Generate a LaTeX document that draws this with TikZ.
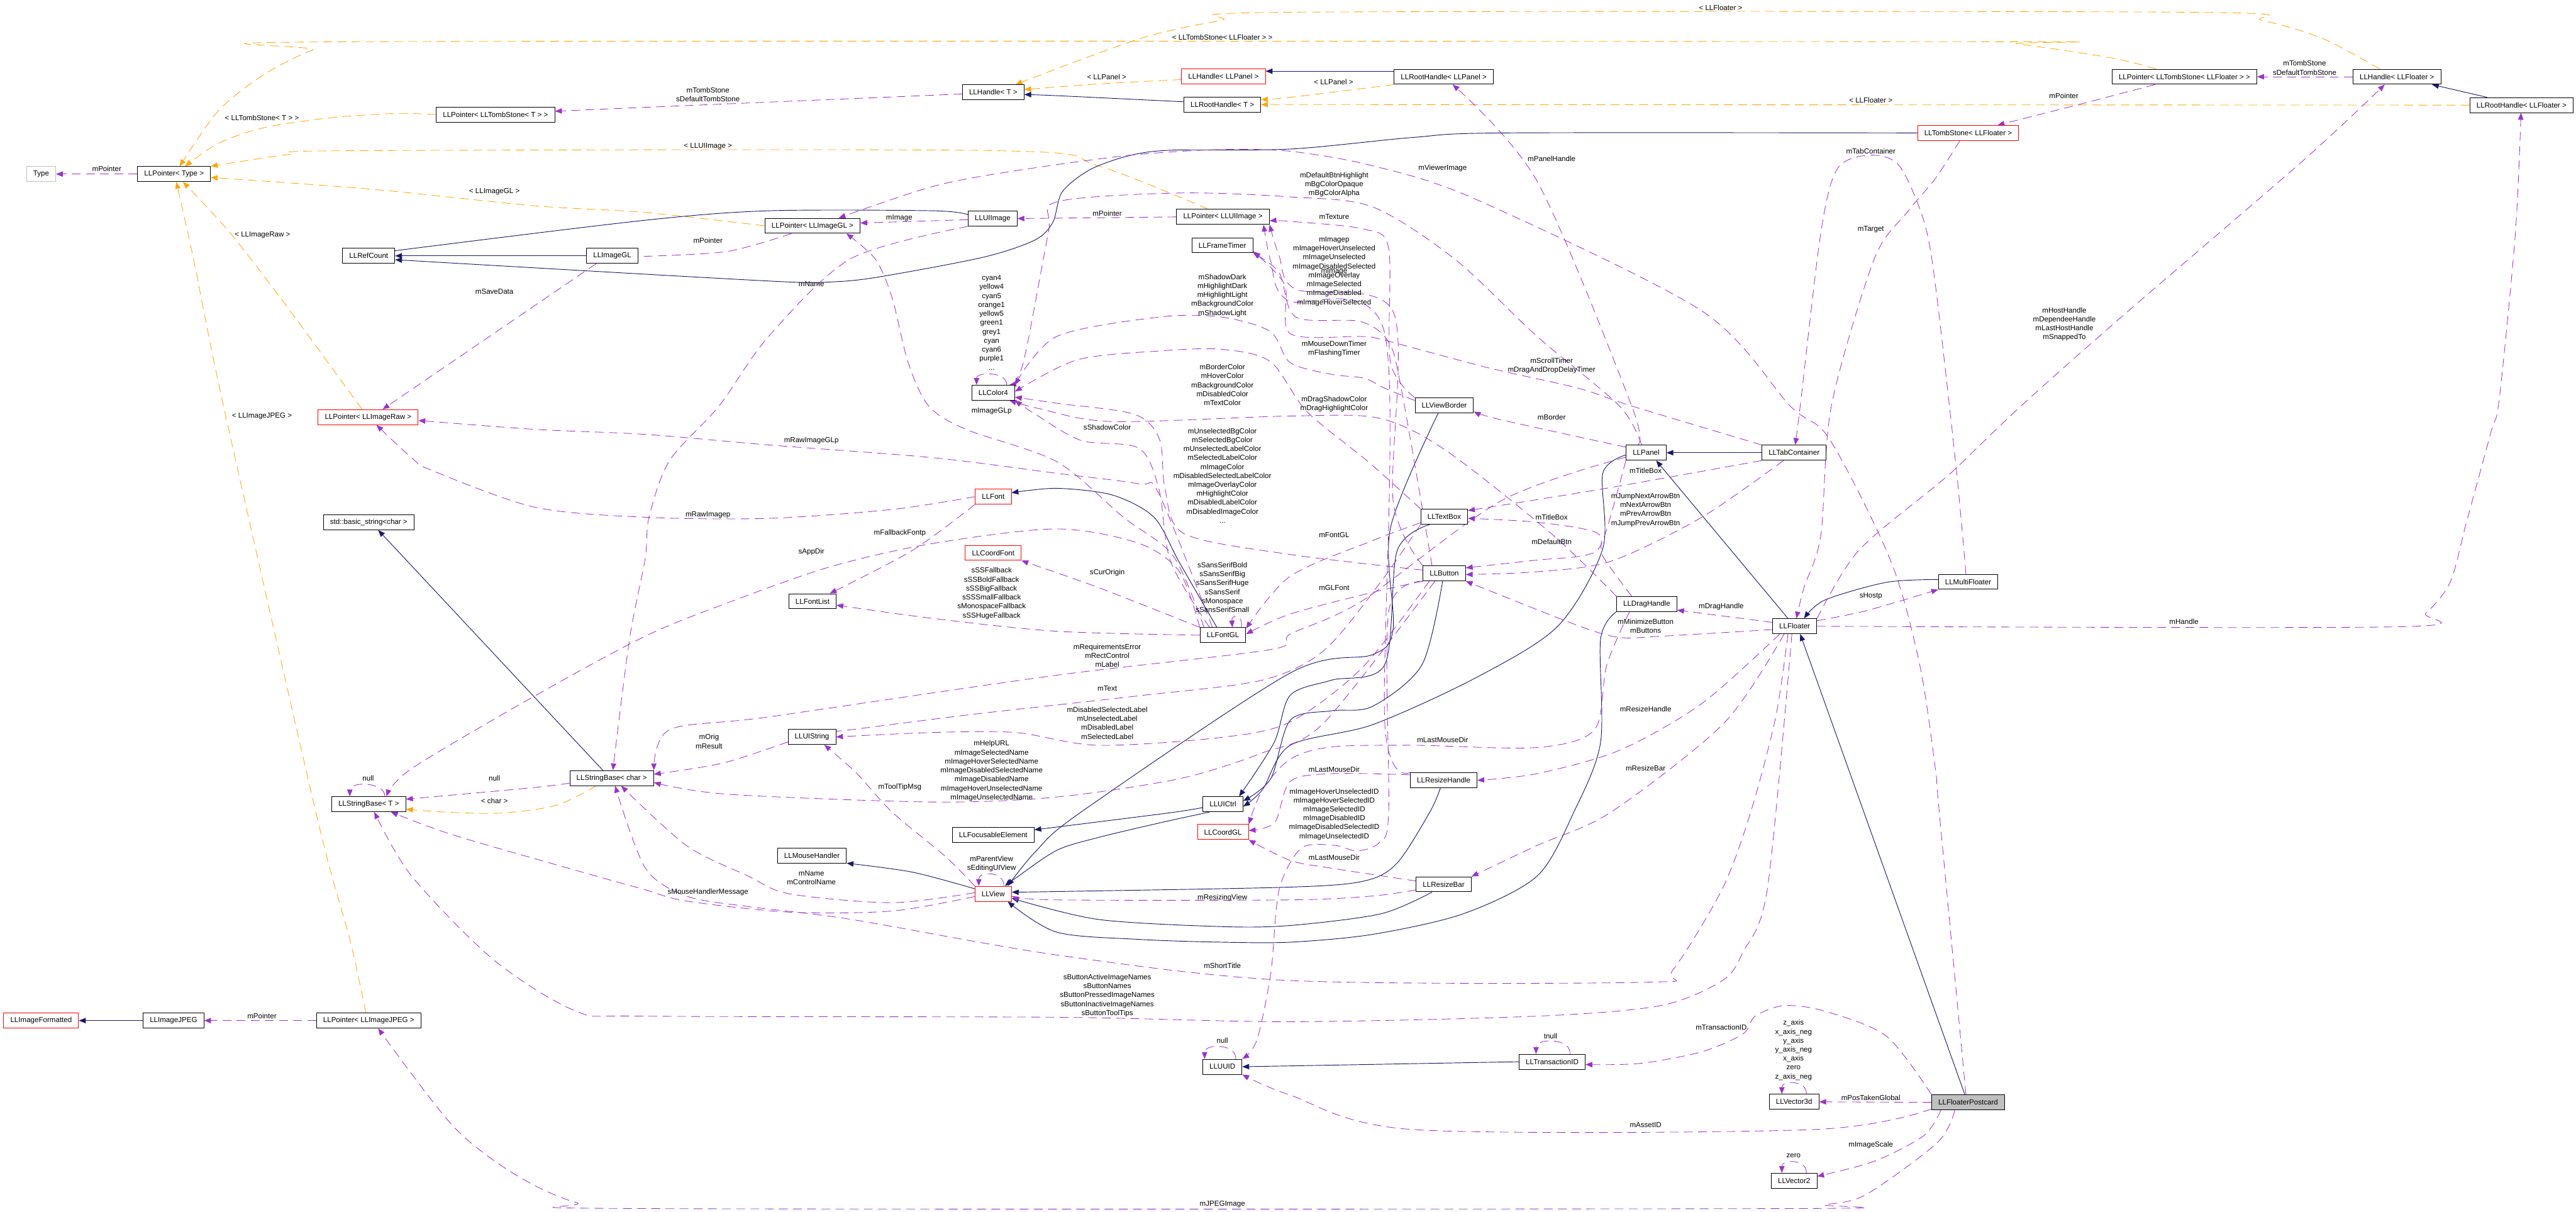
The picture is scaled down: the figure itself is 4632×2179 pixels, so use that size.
\documentclass[tikz,border=0pt]{standalone}
\usepackage{fontspec}
\setmainfont{Liberation Sans}
\usetikzlibrary{arrows.meta,backgrounds}
\definecolor{edgenavy}{RGB}{25,25,112}
\definecolor{edgepurple}{RGB}{154,50,205}
\definecolor{edgeorange}{RGB}{255,165,0}
\definecolor{boxgray}{RGB}{191,191,191}
\newcommand{\graphfont}{\fontsize{7.45pt}{9.16pt}\selectfont}

\begin{document}
\begin{tikzpicture}[x=0.02cm, y=-0.02cm,
  cls/.style={draw=black, fill=white, line width=0.6pt, minimum height=0.54cm, inner xsep=0.24cm, inner ysep=0pt, font=\graphfont},
  redcls/.style={cls, draw=red},
  lbl/.style={align=center, inner sep=0pt, font=\graphfont},
  inh/.style={draw=edgenavy, line width=0.6pt, -{Triangle[length=7pt,width=5.5pt]}},
  dep/.style={draw=edgepurple, line width=0.55pt, dash pattern=on 9pt off 5.5pt, -{Triangle[length=7pt,width=5.5pt]}},
  tpl/.style={draw=edgeorange, line width=0.55pt, dash pattern=on 9pt off 5.5pt, -{Triangle[length=7pt,width=5.5pt]}}]
\useasboundingbox (0,0) rectangle (4632,2179);

\node[cls, draw=boxgray] (typ) at (74,313) {Type};
\node[cls] (ptrtype) at (313,313) {LLPointer< Type >};
\node[cls] (ptrts) at (891,206) {LLPointer< LLTombStone< T > >};
\node[cls] (refcount) at (663,460) {LLRefCount};
\node[cls] (imagegl) at (1101,460) {LLImageGL};
\node[cls] (handlet) at (1786,166) {LLHandle< T >};
\node[redcls] (handlepanel) at (2200,137) {LLHandle< LLPanel >};
\node[cls] (roothandlet) at (2198,188) {LLRootHandle< T >};
\node[cls] (ptrimagegl) at (1461,406) {LLPointer< LLImageGL >};
\node[cls] (uiimage) at (1785,393) {LLUIImage};
\node[cls] (ptruiimage) at (2199,390) {LLPointer< LLUIImage >};
\node[cls] (frametimer) at (2198,441) {LLFrameTimer};
\node[cls] (color4) at (1786,706) {LLColor4};
\node[cls] (roothandlepanel) at (2596,138) {LLRootHandle< LLPanel >};
\node[redcls] (tombfloater) at (3539,239) {LLTombStone< LLFloater >};
\node[cls] (viewborder) at (2597,729) {LLViewBorder};
\node[cls] (ptrtsfloater) at (3928,138) {LLPointer< LLTombStone< LLFloater > >};
\node[cls] (handlefloater) at (4310,138) {LLHandle< LLFloater >};
\node[cls] (roothandlefloater) at (4534,189) {LLRootHandle< LLFloater >};
\node[redcls] (ptrimageraw) at (662,750) {LLPointer< LLImageRaw >};
\node[cls] (basicstring) at (663,939) {std::basic\_string<char >};
\node[cls] (stringchar) at (1100,1399) {LLStringBase< char >};
\node[cls] (stringt) at (663,1446) {LLStringBase< T >};
\node[redcls] (font) at (1786,893) {LLFont};
\node[redcls] (coordfont) at (1786,994) {LLCoordFont};
\node[cls] (fontlist) at (1461,1081) {LLFontList};
\node[cls] (fontgl) at (2199,1142) {LLFontGL};
\node[cls] (uistring) at (1460,1325) {LLUIString};
\node[cls] (uictrl) at (2199,1446) {LLUICtrl};
\node[cls] (panel) at (2960,814) {LLPanel};
\node[cls] (tabcontainer) at (3226,814) {LLTabContainer};
\node[cls] (textbox) at (2597,929) {LLTextBox};
\node[cls] (button) at (2597,1031) {LLButton};
\node[cls] (draghandle) at (2961,1086) {LLDragHandle};
\node[cls] (floater) at (3227,1126) {LLFloater};
\node[cls] (resizehandle) at (2596,1403) {LLResizeHandle};
\node[cls] (multifloater) at (3539,1046) {LLMultiFloater};
\node[redcls] (imageformatted) at (74,1835) {LLImageFormatted};
\node[cls] (imagejpeg) at (312,1835) {LLImageJPEG};
\node[cls] (ptrjpeg) at (663,1835) {LLPointer< LLImageJPEG >};
\node[cls] (focusable) at (1786,1501) {LLFocusableElement};
\node[cls] (mousehandler) at (1460,1538) {LLMouseHandler};
\node[redcls] (view) at (1786,1607) {LLView};
\node[redcls] (coordgl) at (2199,1496) {LLCoordGL};
\node[cls] (uuid) at (2198,1918) {LLUUID};
\node[cls] (resizebar) at (2596,1590) {LLResizeBar};
\node[cls] (transactionid) at (2791,1909) {LLTransactionID};
\node[cls] (vector3d) at (3226,1981) {LLVector3d};
\node[cls] (vector2) at (3226,2123) {LLVector2};
\node[cls, fill=boxgray] (postcard) at (3539,1982) {LLFloaterPostcard};

\node[lbl] (lblptrtype) at (192,304) {mPointer};
\node[lbl] (lbltombt) at (471,212) {< LLTombStone< T > >};
\node[lbl] (lblimagegl) at (889,344) {< LLImageGL >};
\node[lbl] (lblimageraw) at (472,423) {< LLImageRaw >};
\node[lbl] (lblsavedata) at (889,524) {mSaveData};
\node[lbl] (lbltombstone) at (1273,170) {mTombStone\\sDefaultTombStone};
\node[lbl] (lblpanela) at (1990,138) {< LLPanel >};
\node[lbl] (lbltombfloater) at (2198,67) {< LLTombStone< LLFloater > >};
\node[lbl] (lbluiimage) at (1273,263) {< LLUIImage >};
\node[lbl] (lblmimage) at (1617,392) {mImage};
\node[lbl] (lblptruiimage) at (1991,384) {mPointer};
\node[lbl] (lblptrimagegl) at (1273,432) {mPointer};
\node[lbl] (lblmname) at (1459,511) {mName};
\node[lbl] (lblcolors) at (1783,580) {cyan4\\yellow4\\cyan5\\orange1\\yellow5\\green1\\grey1\\cyan\\cyan6\\purple1\\...};
\node[lbl] (lblshadow) at (2198,531) {mShadowDark\\mHighlightDark\\mHighlightLight\\mBackgroundColor\\mShadowLight};
\node[lbl] (lblborder) at (2198,692) {mBorderColor\\mHoverColor\\mBackgroundColor\\mDisabledColor\\mTextColor};
\node[lbl] (lblfloatera) at (3094,14) {< LLFloater >};
\node[lbl] (lblpanelb) at (2398,147) {< LLPanel >};
\node[lbl] (lblfloaterb) at (3364,180) {< LLFloater >};
\node[lbl] (lbltabcont) at (3364,272) {mTabContainer};
\node[lbl] (lblpanelhandle) at (2790,285) {mPanelHandle};
\node[lbl] (lblviewerimage) at (2594,303) {mViewerImage};
\node[lbl] (lbldefhighlight) at (2399,332) {mDefaultBtnHighlight\\mBgColorOpaque\\mBgColorAlpha};
\node[lbl] (lbltexture) at (2399,390) {mTexture};
\node[lbl] (lblimages) at (2399,488) {mImagep\\mImageHoverUnselected\\mImageUnselected\\mImageDisabledSelected\\mImageOverlay\\mImageSelected\\mImageDisabled\\mImageHoverSelected};
\node[lbl] (lblimage) at (2399,488) {mImage};
\node[lbl] (lbltarget) at (3364,412) {mTarget};
\node[lbl] (lbltimers) at (2399,627) {mMouseDownTimer\\mFlashingTimer};
\node[lbl] (lblscroll) at (2790,658) {mScrollTimer\\mDragAndDropDelayTimer};
\node[lbl] (lbldragcolor) at (2399,727) {mDragShadowColor\\mDragHighlightColor};
\node[lbl] (lbltombstoneb) at (4144,122) {mTombStone\\sDefaultTombStone};
\node[lbl] (lblptrtomb) at (3711,172) {mPointer};
\node[lbl] (lblhosthandle) at (3712,583) {mHostHandle\\mDependeeHandle\\mLastHostHandle\\mSnappedTo};
\node[lbl] (lblimagejpeg) at (471,748) {< LLImageJPEG >};
\node[lbl] (lblnullt) at (662,1399) {null};
\node[lbl] (lblnullchar) at (889,1399) {null};
\node[lbl] (lblchar) at (889,1440) {< char >};
\node[lbl] (lblimageglp) at (1783,739) {mImageGLp};
\node[lbl] (lblshadowcolor) at (1991,768) {sShadowColor};
\node[lbl] (lblrawgl) at (1459,792) {mRawImageGLp};
\node[lbl] (lblbtncolors) at (2198,855) {mUnselectedBgColor\\mSelectedBgColor\\mUnselectedLabelColor\\mSelectedLabelColor\\mImageColor\\mDisabledSelectedLabelColor\\mImageOverlayColor\\mHighlightColor\\mDisabledLabelColor\\mDisabledImageColor\\...};
\node[lbl] (lblrawimage) at (1273,926) {mRawImagep};
\node[lbl] (lblfallback) at (1618,958) {mFallbackFontp};
\node[lbl] (lblappdir) at (1459,992) {sAppDir};
\node[lbl] (lblcurorigin) at (1991,1030) {sCurOrigin};
\node[lbl] (lblssfallback) at (1783,1067) {sSSFallback\\sSSBoldFallback\\sSSBigFallback\\sSSSmallFallback\\sMonospaceFallback\\sSSHugeFallback};
\node[lbl] (lblsansserif) at (2198,1056) {sSansSerifBold\\sSansSerifBig\\sSansSerifHuge\\sSansSerif\\sMonospace\\sSansSerifSmall};
\node[lbl] (lblrequire) at (1991,1179) {mRequirementsError\\mRectControl\\mLabel};
\node[lbl] (lbltext) at (1991,1238) {mText};
\node[lbl] (lbllabels) at (1991,1300) {mDisabledSelectedLabel\\mUnselectedLabel\\mDisabledLabel\\mSelectedLabel};
\node[lbl] (lblorig) at (1275,1333) {mOrig\\mResult};
\node[lbl] (lblnames) at (1783,1386) {mHelpURL\\mImageSelectedName\\mImageHoverSelectedName\\mImageDisabledSelectedName\\mImageDisabledName\\mImageHoverUnselectedName\\mImageUnselectedName};
\node[lbl] (lbltooltip) at (1618,1415) {mToolTipMsg};
\node[lbl] (lblborderview) at (2790,750) {mBorder};
\node[lbl] (lbltitleboxa) at (2959,846) {mTitleBox};
\node[lbl] (lblarrows) at (2959,917) {mJumpNextArrowBtn\\mNextArrowBtn\\mPrevArrowBtn\\mJumpPrevArrowBtn};
\node[lbl] (lbltitleboxb) at (2790,930) {mTitleBox};
\node[lbl] (lblfontgl) at (2399,962) {mFontGL};
\node[lbl] (lbldefbtn) at (2790,974) {mDefaultBtn};
\node[lbl] (lblglfont) at (2399,1057) {mGLFont};
\node[lbl] (lblhostp) at (3364,1072) {sHostp};
\node[lbl] (lbldraghandle) at (3095,1091) {mDragHandle};
\node[lbl] (lblbuttons) at (2959,1126) {mMinimizeButton\\mButtons};
\node[lbl] (lblresizehandle) at (2959,1275) {mResizeHandle};
\node[lbl] (lbldira) at (2594,1330) {mLastMouseDir};
\node[lbl] (lblresizebar) at (2959,1381) {mResizeBar};
\node[lbl] (lbldirb) at (2399,1383) {mLastMouseDir};
\node[lbl] (lblids) at (2399,1464) {mImageHoverUnselectedID\\mImageHoverSelectedID\\mImageSelectedID\\mImageDisabledID\\mImageDisabledSelectedID\\mImageUnselectedID};
\node[lbl] (lblhandle) at (3927,1118) {mHandle};
\node[lbl] (lblptrjpeg) at (471,1827) {mPointer};
\node[lbl] (lblparent) at (1783,1553) {mParentView\\sEditingUIView};
\node[lbl] (lblcontrolname) at (1459,1578) {mName\\mControlName};
\node[lbl] (lblmousemsg) at (1273,1604) {sMouseHandlerMessage};
\node[lbl] (lblresizing) at (2198,1614) {mResizingView};
\node[lbl] (lblshorttitle) at (2198,1736) {mShortTitle};
\node[lbl] (lblbtnnames) at (1991,1790) {sButtonActiveImageNames\\sButtonNames\\sButtonPressedImageNames\\sButtonInactiveImageNames\\sButtonToolTips};
\node[lbl] (lblnulluuid) at (2198,1871) {null};
\node[lbl] (lbljpeg) at (2198,2165) {mJPEGImage};
\node[lbl] (lbldirc) at (2399,1542) {mLastMouseDir};
\node[lbl] (lbltransid) at (3095,1847) {mTransactionID};
\node[lbl] (lbltnull) at (2788,1863) {tnull};
\node[lbl] (lblaxes) at (3225,1888) {z\_axis\\x\_axis\_neg\\y\_axis\\y\_axis\_neg\\x\_axis\\zero\\z\_axis\_neg};
\node[lbl] (lblpostaken) at (3364,1974) {mPosTakenGlobal};
\node[lbl] (lblassetid) at (2959,2023) {mAssetID};
\node[lbl] (lblimagescale) at (3364,2059) {mImageScale};
\node[lbl] (lblzero) at (3225,2078) {zero};

\begin{scope}[on background layer]
\draw[tpl] plot[smooth] coordinates {(ptrts.west) (710,204) (592,212) (473,230) (392,258) (ptrtype.north -| 333,0)};
\draw[tpl] plot[smooth] coordinates {(ptrtsfloater.north -| 3877,0) (3796,104) (3627,79) (3540,75) (640,75) (562,90) (473,135) (392,200) (ptrtype.north -| 323,0)};
\draw[tpl] plot[smooth] coordinates {(ptruiimage.north -| 2172,0) (1974,298) (1796,271) (629,271) (518,278) (ptrtype.north east)};
\draw[tpl] plot[smooth] coordinates {(ptrimagegl.west) (1160,382) (962,370) (666,340) (ptrtype.east |- 0,319)};
\draw[tpl] plot[smooth] coordinates {(ptrimageraw.north -| 651,0) (518,554) (414,419) (ptrtype.south -| 329,0)};
\draw[tpl] plot[smooth] coordinates {(ptrjpeg.north -| 658,0) (629,1689) (570,1469) (403,735) (348,466) (ptrtype.south -| 317,0)};
\draw[tpl] plot[smooth] coordinates {(handlepanel.west |- 0,143) (1974,151) (handlet.east |- 0,161)};
\draw[tpl] plot[smooth] coordinates {(handlefloater.north -| 4279,0) (4178,70) (4068,37) (3936,22) (2320,22) (2195,37) (2048,70) (handlet.north -| 1826,0)};
\draw[tpl] plot[smooth] coordinates {(roothandlepanel.south west) (2320,175) (roothandlet.east |- 0,179)};
\draw[tpl] (roothandlefloater.west) -- (roothandlet.east);
\draw[tpl] plot[smooth] coordinates {(stringchar.south -| 1072,0) (1000,1448) (900,1462) (800,1460) (stringt.east |- 0,1455)};

\draw[inh] plot[smooth] coordinates {(roothandlet.west |- 0,183) (1900,172) (handlet.east |- 0,170)};
\draw[inh] (roothandlepanel.west |- 0,128) -- (handlepanel.east |- 0,128);
\draw[inh] (roothandlefloater.north -| 4472,0) -- (handlefloater.south -| 4373,0);
\draw[inh] plot[smooth] coordinates {(uiimage.west |- 0,386) (1678,379) (1382,379) (1160,396) (740,447) (refcount.east |- 0,452)};
\draw[inh] (imagegl.west) -- (refcount.east);
\draw[inh] plot[smooth] coordinates {(tombfloater.west) (2707,239) (2542,247) (2320,268) (2107,270) (2030,280) (1960,305) (1910,345) (1893,400) (1860,432) (1766,463) (1574,499) (1493,507) (1419,507) (1160,493) (refcount.east |- 0,467)};
\draw[inh] (stringchar.north -| 1084,0) -- (basicstring.south -| 680,0);
\draw[inh] (imagejpeg.west) -- (imageformatted.east);
\draw[inh] (tabcontainer.west) -- (panel.east);
\draw[inh] (floater.north -| 3215,0) -- (panel.south -| 2978,0);
\draw[inh] plot[smooth] coordinates {(multifloater.west |- 0,1042) (3392,1047) (3281,1079) (floater.north -| 3244,0)};
\draw[inh] (postcard.north -| 3533,0) -- (floater.south -| 3237,0);
\draw[inh] (transactionid.west) -- (uuid.east);
\draw[inh] plot[smooth] coordinates {(fontgl.north -| 2188,0) (2120,1010) (2075,930) (2000,890) (1900,878) (font.east |- 0,886)};
\draw[inh] plot[smooth] coordinates {(uictrl.south -| 2175,0) (2092,1478) (1974,1506) (1900,1529) (1826,1579) (view.north -| 1807,0)};
\draw[inh] plot[smooth] coordinates {(uictrl.west |- 0,1452) (2099,1462) (focusable.east |- 0,1492)};
\draw[inh] plot[smooth] coordinates {(view.west |- 0,1598) (1640,1568) (mousehandler.south east)};
\draw[inh] plot[smooth] coordinates {(viewborder.south -| 2586,0) (2500,950) (2505,1130) (2468,1177) (2320,1210) (1944,1460) (1863,1530) (view.north -| 1812,0)};
\draw[inh] plot[smooth] coordinates {(textbox.south -| 2571,0) (2512,991) (2490,1195) (2394,1223) (2320,1250) (2291,1335) (uictrl.north -| 2228,0)};
\draw[inh] plot[smooth] coordinates {(button.south -| 2594,0) (2557,1195) (2468,1270) (2394,1278) (2320,1295) (2285,1400) (uictrl.east |- 0,1440)};
\draw[inh] plot[smooth] coordinates {(panel.west |- 0,818) (2882,851) (2882,986) (2801,1126) (2653,1219) (2468,1303) (2320,1340) (2270,1420) (uictrl.east |- 0,1450)};
\draw[inh] plot[smooth] coordinates {(draghandle.south west) (2878,1149) (2878,1335) (2830,1460) (2764,1575) (2631,1643) (2468,1680) (2320,1694) (2195,1694) (2048,1689) (1900,1676) (view.south -| 1812,0)};
\draw[inh] plot[smooth] coordinates {(resizehandle.south -| 2590,0) (2571,1460) (2512,1552) (2453,1584) (2320,1595) (1900,1603) (view.east |- 0,1604)};
\draw[inh] plot[smooth] coordinates {(resizebar.south -| 2575,0) (2483,1643) (2320,1664) (2195,1666) (1974,1653) (view.east |- 0,1615)};

\draw[dep] (ptrtype.west) -- (typ.east);
\draw[dep] plot[smooth] coordinates {(handlet.west |- 0,169) (1160,193) (ptrts.east |- 0,200)};
\draw[dep] (handlefloater.west) -- (ptrtsfloater.east);
\draw[dep] plot[smooth] coordinates {(ptrtsfloater.south -| 3875,0) (3730,190) (tombfloater.north -| 3592,0)};
\draw[dep] (uiimage.west |- 0,395) -- (ptrimagegl.east |- 0,401);
\draw[dep] plot[smooth] coordinates {(ptrimagegl.south -| 1423,0) (1308,452) (1160,461) (imagegl.east |- 0,461)};
\draw[dep] (imagegl.south -| 1072,0) -- (ptrimageraw.north -| 688,0);
\draw[dep] (ptruiimage.west) -- (uiimage.east);
\draw[dep] plot[smooth] coordinates {(postcard.north -| 3535,0) (3487,1460) (3480,1382) (3452,1196) (3400,1009) (3290,790) (3219,730) (3060,559) (2653,358) (2468,298) (2320,272) (2195,269) (2033,279) (1826,307) (1678,335) (ptrimagegl.north -| 1508,0)};
\draw[dep] plot[smooth] coordinates {(fontgl.north -| 2165,0) (2110,1000) (2020,930) (1900,830) (1737,772) (1670,730) (1633,652) (1604,535) (1574,466) (ptrimagegl.south -| 1522,0)};
\draw[dep] plot[smooth] coordinates {(viewborder.north west) (2500,650) (2497,447) (2453,412) (2320,398) (ptruiimage.east |- 0,397)};
\draw[dep] plot[smooth] coordinates {(button.north west) (2505,900) (2505,560) (2330,520) (2300,460) (ptruiimage.south east)};
\draw[dep] plot[smooth] coordinates {(resizehandle.north west) (2490,1300) (2490,600) (2315,540) (2285,470) (ptruiimage.south -| 2272,0)};
\draw[dep] plot[smooth] coordinates {(button.north -| 2575,0) (2520,700) (2497,615) (2446,578) (2330,570) (2300,490) (frametimer.south east)};
\draw[dep] plot[smooth] coordinates {(tabcontainer.north west) (2934,730) (2838,698) (2675,661) (2483,610) (2446,605) (2320,600) (2310,512) (frametimer.east |- 0,452)};
\draw[dep] plot[smooth] coordinates {(viewborder.west |- 0,720) (2490,698) (2453,680) (2394,673) (2320,652) (2284,596) (2196,570) (2085,570) (1900,605) (color4.north east)};
\draw[dep] plot[smooth] coordinates {(textbox.north west) (2460,830) (2350,740) (2284,650) (2196,628) (2085,631) (1937,647) (color4.east |- 0,704)};
\draw[dep] plot[smooth] coordinates {(button.west |- 0,1025) (2320,997) (2130,960) (2095,880) (2085,790) (2040,745) (1900,725) (color4.east |- 0,714)};
\draw[dep] plot[smooth] coordinates {(fontgl.north -| 2175,0) (2105,1010) (2084,880) (2048,806) (1944,792) (1862,745) (color4.south east)};
\draw[dep] plot[smooth] coordinates {(draghandle.north west) (2790,960) (2600,810) (2480,752) (2320,748) (2000,758) (1870,735) (color4.south -| 1815,0)};
\draw[dep] plot[smooth] coordinates {(panel.north -| 2952,0) (2912,730) (2764,605) (2616,466) (2468,372) (2320,354) (2121,347) (1900,363) (1885,419) (1840,652) (color4.north -| 1815,0)};
\draw[dep] plot[smooth] coordinates {(panel.west |- 0,804) (2700,755) (viewborder.east |- 0,740)};
\draw[dep] plot[smooth] coordinates {(panel.north -| 2945,0) (2934,730) (2764,326) (roothandlepanel.south -| 2612,0)};
\draw[dep] plot[smooth] coordinates {(panel.south west) (2882,972) (2852,998) (2764,1007) (button.east |- 0,1021)};
\draw[dep] plot[smooth] coordinates {(tabcontainer.south -| 3207,0) (3060,930) (2897,1009) (2764,1028) (button.east |- 0,1033)};
\draw[dep] plot[smooth] coordinates {(tabcontainer.south west) (2882,879) (textbox.east |- 0,918)};
\draw[dep] plot[smooth] coordinates {(draghandle.north -| 2934,0) (2882,1000) (2871,958) (2764,939) (textbox.east |- 0,932)};
\draw[dep] plot[smooth] coordinates {(multifloater.north -| 3535,0) (3517,837) (3480,512) (3459,396) (3415,298) (3363,279) (3304,303) (3274,419) (3237,730) (tabcontainer.north -| 3228,0)};
\draw[dep] plot[smooth] coordinates {(tombfloater.south -| 3524,0) (3480,321) (3429,382) (3370,466) (3293,730) (3274,963) (3244,1056) (floater.north -| 3230,0)};
\draw[dep] plot[smooth] coordinates {(floater.north east) (3341,991) (3480,874) (3517,842) (3634,730) (3811,573) (4141,289) (handlefloater.south -| 4288,0)};
\draw[dep] plot[smooth] coordinates {(floater.east |- 0,1116) (3356,1098) (multifloater.south west)};
\draw[dep] plot[smooth] coordinates {(floater.east) (4310,1127) (4362,1102) (4406,1046) (4435,939) (4479,777) (4494,717) (4523,419) (roothandlefloater.south -| 4533,0)};
\draw[dep] (floater.west |- 0,1119) -- (draghandle.east |- 0,1097);
\draw[dep] plot[smooth] coordinates {(floater.west |- 0,1132) (2986,1144) (2912,1146) (2838,1125) (button.south east)};
\draw[dep] plot[smooth] coordinates {(floater.south -| 3200,0) (3060,1265) (2912,1349) (2764,1391) (resizehandle.east)};
\draw[dep] plot[smooth] coordinates {(floater.south -| 3208,0) (3100,1300) (2897,1460) (2764,1520) (resizebar.north east)};
\draw[dep] plot[smooth] coordinates {(floater.south -| 3215,0) (3193,1289) (3148,1460) (3097,1598) (3008,1744) (2963,1766) (2320,1763) (1900,1717) (1530,1653) (1345,1630) (1234,1611) (1160,1560) (stringchar.south -| 1106,0)};
\draw[dep] plot[smooth] coordinates {(floater.south -| 3222,0) (3178,1598) (3134,1712) (3097,1763) (2986,1808) (2764,1827) (2320,1837) (1900,1829) (1160,1827) (1036,1818) (888,1726) (740,1575) (stringt.south -| 673,0)};
\draw[dep] plot[smooth] coordinates {(draghandle.south -| 2930,0) (2889,1196) (2867,1312) (2764,1344) (2542,1340) (2394,1343) (2320,1365) (2270,1420) (coordgl.north east)};
\draw[dep] plot[smooth] coordinates {(resizehandle.west |- 0,1393) (2394,1391) (2320,1405) (2292,1479) (coordgl.east |- 0,1493)};
\draw[dep] plot[smooth] coordinates {(resizebar.west |- 0,1584) (2394,1561) (2320,1547) (coordgl.south east)};
\draw[dep] plot[smooth] coordinates {(resizebar.west |- 0,1600) (2468,1611) (2320,1618) (1900,1618) (view.east |- 0,1611)};
\draw[dep] plot[smooth] coordinates {(button.south west) (2497,1100) (2497,1460) (2480,1515) (2440,1530) (2400,1520) (2340,1525) (2300,1600) (2285,1750) (2260,1870) (uuid.north east)};
\draw[dep] plot[smooth] coordinates {(postcard.west |- 0,1994) (3259,2031) (2542,2031) (2320,1969) (uuid.south east)};
\draw[dep] plot[smooth] coordinates {(postcard.north west) (3392,1863) (3281,1818) (3208,1808) (3156,1827) (3134,1859) (3060,1891) (2949,1912) (transactionid.east |- 0,1914)};
\draw[dep] (postcard.west) -- (vector3d.east);
\draw[dep] plot[smooth] coordinates {(postcard.south -| 3490,0) (3459,2042) (3370,2088) (vector2.east |- 0,2115)};
\draw[dep] plot[smooth] coordinates {(postcard.south -| 3515,0) (3484,2054) (3355,2148) (3281,2166) (3208,2173) (1160,2173) (1036,2162) (925,2111) (814,2024) (ptrjpeg.south -| 680,0)};
\draw[dep] (ptrjpeg.west) -- (imagejpeg.east);
\draw[dep] plot[smooth] coordinates {(view.north west) (1700,1540) (1604,1460) (1540,1390) (uistring.south -| 1482,0)};
\draw[dep] plot[smooth] coordinates {(uistring.west |- 0,1334) (1300,1372) (stringchar.east |- 0,1392)};
\draw[dep] plot[smooth] coordinates {(textbox.south west) (2480,1050) (2380,1170) (2269,1223) (2048,1251) (1752,1284) (1530,1312) (uistring.east |- 0,1314)};
\draw[dep] plot[smooth] coordinates {(button.south -| 2570,0) (2450,1200) (2320,1298) (2195,1326) (1974,1340) (1826,1317) (1678,1317) (uistring.east |- 0,1325)};
\draw[dep] plot[smooth] coordinates {(panel.west |- 0,822) (2700,900) (2450,1080) (2320,1140) (2284,1168) (1900,1214) (1382,1289) (1204,1312) (stringchar.north east)};
\draw[dep] plot[smooth] coordinates {(button.south -| 2580,0) (2380,1300) (2269,1354) (2121,1400) (1900,1433) (1678,1442) (1308,1428) (stringchar.east |- 0,1407)};
\draw[dep] plot[smooth] coordinates {(view.west |- 0,1605) (1604,1623) (1419,1607) (1345,1575) (1234,1520) (stringchar.south -| 1117,0)};
\draw[dep] plot[smooth] coordinates {(view.west |- 0,1612) (1604,1638) (1419,1640) (1234,1620) (1154,1598) (1036,1565) (814,1501) (stringt.south -| 703,0)};
\draw[dep] plot[smooth] coordinates {(stringchar.west |- 0,1408) (960,1416) (stringt.east |- 0,1437)};
\draw[dep] plot[smooth] coordinates {(fontgl.north west) (2121,1028) (2048,977) (1900,951) (1678,977) (1493,1019) (1308,1084) (1160,1144) (962,1251) (740,1382) (stringt.north -| 695,0)};
\draw[dep] plot[smooth] coordinates {(uiimage.south west) (1530,465) (1382,605) (1293,730) (1204,828) (1167,930) (1160,1005) (1132,1149) (stringchar.north -| 1102,0)};
\draw[dep] plot[smooth] coordinates {(fontgl.west) (1900,1135) (1678,1112) (fontlist.east |- 0,1088)};
\draw[dep] plot[smooth] coordinates {(font.south west) (1640,990) (fontlist.north -| 1492,0)};
\draw[dep] plot[smooth] coordinates {(font.west) (1604,916) (1382,932) (1160,930) (962,912) (777,846) (740,823) (ptrimageraw.south -| 677,0)};
\draw[dep] plot[smooth] coordinates {(fontgl.north -| 2180,0) (2084,888) (2048,870) (1900,851) (1678,823) (1382,800) (1160,781) (962,772) (ptrimageraw.east |- 0,756)};
\draw[dep] plot[smooth] coordinates {(fontgl.north west) (1974,1056) (coordfont.south east)};
\draw[dep] plot[smooth] coordinates {(textbox.west |- 0,940) (2468,972) (2320,1036) (fontgl.east |- 0,1130)};
\draw[dep] plot[smooth] coordinates {(button.south west) (2468,1065) (2320,1104) (fontgl.east |- 0,1140)};

\draw[dep] (color4.north -| 1810,0) .. controls (1812,668) and (1756,668) .. (color4.north -| 1756,0);
\draw[dep] (fontgl.north -| 2232,0) .. controls (2236,1104) and (2214,1104) .. (fontgl.north -| 2216,0);
\draw[dep] (stringt.north -| 692,0) .. controls (692,1405) and (629,1405) .. (stringt.north -| 629,0);
\draw[dep] (view.north -| 1805,0) .. controls (1806,1566) and (1760,1566) .. (view.north -| 1760,0);
\draw[dep] (uuid.north -| 2222,0) .. controls (2224,1876) and (2166,1876) .. (uuid.north -| 2166,0);
\draw[dep] (transactionid.north -| 2823,0) .. controls (2826,1866) and (2762,1866) .. (transactionid.north -| 2762,0);
\draw[dep] (vector3d.north -| 3248,0) .. controls (3250,1942) and (3204,1942) .. (vector3d.north -| 3204,0);
\draw[dep] (vector2.north -| 3248,0) .. controls (3250,2084) and (3204,2084) .. (vector2.north -| 3204,0);
\end{scope}
\end{tikzpicture}
\end{document}
